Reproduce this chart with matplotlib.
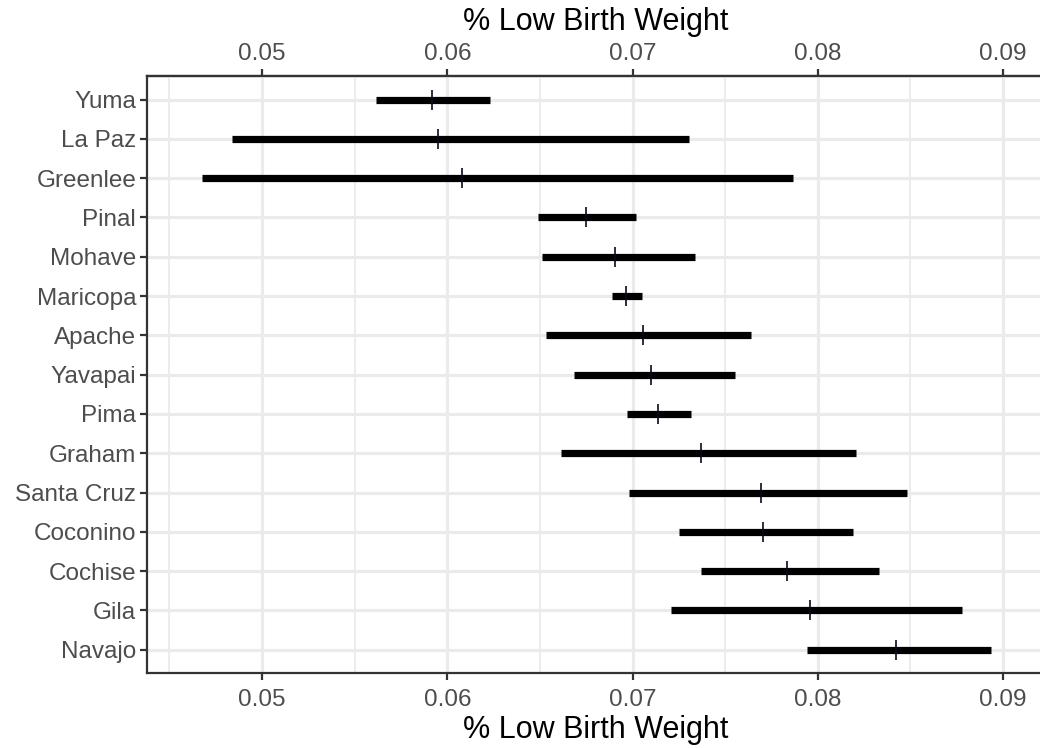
import matplotlib
matplotlib.use("Agg")
import matplotlib.pyplot as plt
import numpy as np

counties = ["Yuma", "La Paz", "Greenlee", "Pinal", "Mohave", "Maricopa", "Apache",
            "Yavapai", "Pima", "Graham", "Santa Cruz", "Coconino", "Cochise", "Gila", "Navajo"]
estimate = [0.05916, 0.05952, 0.06078, 0.06747, 0.06905, 0.06964, 0.07058,
            0.07101, 0.07139, 0.07367, 0.07693, 0.07705, 0.07832, 0.07957, 0.08421]
lower = [0.05614, 0.04840, 0.04675, 0.06488, 0.06509, 0.06887, 0.06531,
         0.06684, 0.06968, 0.06614, 0.06982, 0.07252, 0.07369, 0.07207, 0.07940]
upper = [0.06230, 0.07304, 0.07866, 0.07018, 0.07337, 0.07049, 0.07637,
         0.07554, 0.07314, 0.08207, 0.08479, 0.08188, 0.08331, 0.08778, 0.08933]

plt.rcParams['font.family'] = ['Liberation Sans', 'DejaVu Sans']

fig = plt.figure(figsize=(10.4, 7.48), dpi=100)
W, H = 1040, 748
ax = fig.add_axes([147.3 / W, (H - 673.3) / H, (1045 - 147.3) / W, (673.3 - 76) / H])

y = np.arange(len(counties))

# intervals and point estimates
ax.hlines(y, lower, upper, color='black', linewidth=5.2, zorder=3)
ax.plot(estimate, y, linestyle='none', marker='|', color='#0a0a1a',
        markersize=14, markeredgewidth=1.2, zorder=4)

ax.set_xlim(0.04381, 0.09226)
ax.set_ylim(len(counties) - 0.4, -0.6)

major = [0.05, 0.06, 0.07, 0.08, 0.09]
minor = [0.045, 0.055, 0.065, 0.075, 0.085]
ax.set_xticks(major)
ax.set_xticks(minor, minor=True)
ax.set_xticklabels(["0.05", "0.06", "0.07", "0.08", "0.09"])
ax.set_yticks(y)
ax.set_yticklabels(counties)

ax.grid(True, which='major', color='#EBEBEB', linewidth=2.3, zorder=0)
ax.grid(True, which='minor', axis='x', color='#EBEBEB', linewidth=1.3, zorder=0)
ax.set_axisbelow(True)

for s in ax.spines.values():
    s.set_color('#333333')
    s.set_linewidth(1.6)

ax.tick_params(axis='both', which='major', length=5, width=1.6, color='#333333',
               labelsize=17.5, labelcolor='#4D4D4D', pad=3)
ax.tick_params(axis='x', which='major', pad=6)
ax.tick_params(axis='x', which='minor', length=0)
ax.set_xlabel("% Low Birth Weight", fontsize=22, color='black', labelpad=3)

top = ax.secondary_xaxis('top')
top.set_xticks(major)
top.set_xticklabels(["0.05", "0.06", "0.07", "0.08", "0.09"])
top.tick_params(axis='x', which='major', length=5, width=1.6, color='#333333',
                labelsize=17.5, labelcolor='#4D4D4D', pad=3)
top.tick_params(axis='x', which='minor', length=0)
top.spines['top'].set_color('#333333')
top.spines['top'].set_linewidth(1.6)
top.set_xlabel("% Low Birth Weight", fontsize=22, color='black', labelpad=9)

fig.savefig("out.png", dpi=100)
